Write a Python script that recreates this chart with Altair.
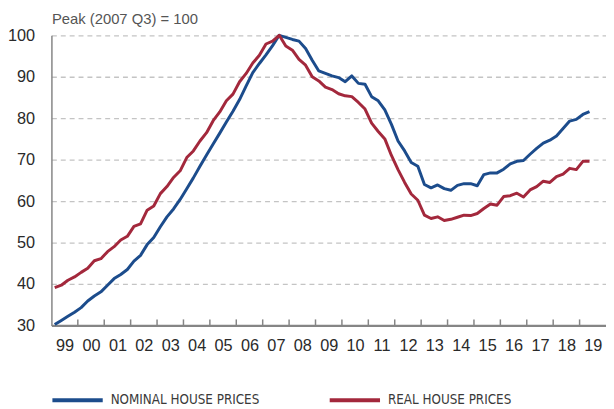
import altair as alt
import pandas as pd

years = list(range(1999, 2020))
quarter_labels = [f"{y} Q{q}" for y in years for q in range(1, 5)][:82]

nominal = [30.2, 31.2, 32.2, 33.2, 34.3, 35.9, 37.1, 38.1, 39.7, 41.3, 42.3, 43.5,
           45.5, 46.9, 49.5, 51.2, 53.8, 56.2, 58.1, 60.4, 63.0, 65.6, 68.4, 71.1,
           73.8, 76.4, 79.1, 81.7, 84.5, 87.8, 91.0, 93.2, 95.3, 97.5, 100.0, 99.5,
           99.0, 98.6, 96.8, 94.0, 91.4, 90.8, 90.2, 89.8, 88.8, 90.2, 88.4, 88.2,
           85.2, 84.2, 82.0, 78.5, 74.5, 72.1, 69.3, 68.4, 64.0, 63.2, 63.9, 63.0,
           62.6, 63.8, 64.2, 64.2, 63.7, 66.4, 66.8, 66.8, 67.7, 69.0, 69.6, 69.8,
           71.3, 72.7, 74.0, 74.7, 75.7, 77.5, 79.3, 79.7, 80.9, 81.6]

real = [39.1, 39.7, 40.9, 41.7, 42.8, 43.8, 45.6, 46.1, 47.8, 49.0, 50.6, 51.5,
        53.9, 54.5, 57.8, 58.8, 61.8, 63.5, 65.7, 67.3, 70.5, 72.1, 74.5, 76.5,
        79.4, 81.5, 84.2, 85.8, 88.8, 90.8, 93.3, 95.2, 97.9, 98.6, 100.0, 97.4,
        96.4, 94.2, 92.8, 90.0, 89.0, 87.5, 86.9, 85.9, 85.4, 85.2, 83.8, 82.2,
        78.8, 76.8, 75.0, 71.0, 67.6, 64.5, 61.7, 60.2, 56.6, 55.8, 56.2, 55.3,
        55.6, 56.1, 56.6, 56.5, 57.0, 58.2, 59.3, 59.0, 61.1, 61.3, 61.9, 61.0,
        62.7, 63.5, 64.8, 64.5, 65.9, 66.5, 67.9, 67.6, 69.6, 69.6]

series_names = ["NOMINAL HOUSE PRICES", "REAL HOUSE PRICES"]
series_colors = ["#1c4c8c", "#a3283c"]
y_ticks = [30, 40, 50, 60, 70, 80, 90, 100]
x_label_years = years  # labels 99 .. 19
tick_years = list(range(2000, 2020))
y_title = "Peak (2007 Q3) = 100"


def qpos(label):
    y, q = label.split(" Q")
    return int(y) + (int(q) - 0.5) / 4


rows = []
for name, vals in zip(series_names, [nominal, real]):
    for lab, v in zip(quarter_labels, vals):
        rows.append({"quarter": lab, "t": qpos(lab), "value": v, "series": name})
df = pd.DataFrame(rows)

ticks_df = pd.DataFrame({"t": tick_years, "y0": [30] * len(tick_years), "y1": [31.45] * len(tick_years)})

FONT = "Liberation Sans"

xscale = alt.Scale(domain=[1999, 2020], nice=False, zero=False)
yscale = alt.Scale(domain=[30, 100], nice=False, zero=False)

x_axis = alt.Axis(values=[y + 0.5 for y in x_label_years],
                  labelExpr="(floor(datum.value) % 100 < 10 ? '0' : '') + (floor(datum.value) % 100)",
                  ticks=False, grid=False, domain=True, domainColor="#858585",
                  domainWidth=2.2, labelFont=FONT, labelFontSize=16.5,
                  labelColor="#2a2a2a", labelPadding=12, title=None,
                  labelFlush=False, labelOverlap=False, labelBound=False)
y_axis = alt.Axis(values=y_ticks, ticks=False, grid=True, gridColor="#c4c4c4",
                  gridDash=[5, 4], gridWidth=1.3, domain=True,
                  domainColor="#858585", domainWidth=1.5, labelFont=FONT,
                  labelFontSize=16.5, labelColor="#2a2a2a", labelPadding=17,
                  labelOverlap=False,
                  title=y_title, titleAngle=0, titleX=0, titleY=-12,
                  titleAlign="left", titleBaseline="alphabetic",
                  titleFont=FONT, titleFontSize=15, titleFontWeight="normal",
                  titleColor="#555555")

lines = alt.Chart(df).mark_line(strokeWidth=3, strokeJoin="round").encode(
    x=alt.X("t:Q", scale=xscale, axis=x_axis),
    y=alt.Y("value:Q", scale=yscale, axis=y_axis),
    color=alt.Color("series:N",
                    scale=alt.Scale(domain=series_names, range=series_colors),
                    legend=alt.Legend(orient="none", legendX=-1, legendY=342,
                                      direction="horizontal", title=None,
                                      symbolType="stroke", symbolSize=2600,
                                      symbolStrokeWidth=4, labelOffset=6,
                                      labelFont="DejaVu Sans Condensed, Liberation Sans",
                                      labelFontSize=13.5, labelColor="#3a3a3a",
                                      labelLimit=400,
                                      columnPadding=63, padding=0)),
    detail="series:N",
)

ticks = alt.Chart(ticks_df).mark_rule(color="#858585", strokeWidth=1.5).encode(
    x=alt.X("t:Q", scale=xscale, axis=x_axis),
    y=alt.Y("y0:Q", scale=yscale, axis=y_axis),
    y2="y1:Q",
)

chart = alt.layer(lines, ticks).properties(
    width=562,
    height=294,
    padding={"left": 44, "top": 25, "right": 0, "bottom": 80},
    autosize=alt.AutoSizeParams(type="none"),
).configure_view(stroke=None).configure_axis(labelOverlap=False)

chart.save("out.html", embed_options={"renderer": "svg", "actions": False})
